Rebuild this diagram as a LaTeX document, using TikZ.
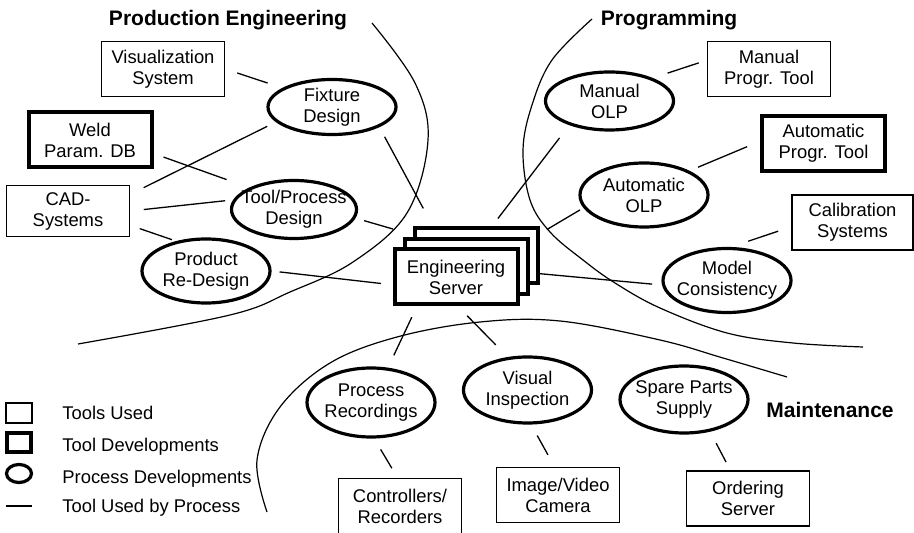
\documentclass[tikz,border=0pt]{standalone}
\usepackage{fontspec}
\setmainfont{Liberation Sans}
\usetikzlibrary{shapes.geometric}
\tikzstyle{every tool} = []
\tikzstyle{tool} = [draw, rectangle, line width=0.75pt, minimum width=61.5pt, minimum height=27.5pt, inner sep=0pt, align=center, every tool]
\tikzstyle{devtool} = [tool, line width=2pt]
\tikzstyle{process} = [draw, ellipse, line width=1.6pt, minimum width=64pt, minimum height=32pt, inner sep=-6pt, align=center]
\tikzstyle{link} = [draw, line width=0.65pt]
\tikzstyle{border} = [draw, line width=0.6pt]
\tikzstyle{area} = [font=\fontsize{10.5}{12}\selectfont\bfseries]
\tikzstyle{keytext} = [anchor=west, inner sep=0pt]

\begin{document}
\begin{tikzpicture}[x=0.5pt, y=-0.5pt, every node/.style={font=\fontsize{9.2}{10.5}\selectfont}]
    \useasboundingbox (0,0) rectangle (914,533);

    % areas
    \draw[border] plot[smooth, tension=0.6] coordinates {(372,23) (415,83) (428,140) (407,213) (353,262) (290,292) (230,315) (78,344)};
    \draw[border] plot[smooth, tension=0.6] coordinates {(592,19) (552,60) (532,105) (523,150) (530,200) (550,232) (583,260) (615,283) (660,308) (727,333) (793,343) (863,347)};
    \draw[border] plot[smooth, tension=0.6] coordinates {(787,377) (723,358) (660,340) (560,321) (480,322) (397,337) (330,363) (280,407) (257,460) (267,512)};

    \node[area] (pe) at (228,20) {Production Engineering};
    \node[area] (pg) at (669,20) {Programming};
    \node[area] (mt) at (830,410) {Maintenance};

    % tools
    \node[tool] (vis) at (163,69) {Visualization\\System};
    \node[devtool] (weld) at (90,140) {Weld\\Param. DB};
    \node[tool, minimum height=25.5pt] (cad) at (68,211) {CAD-\\Systems};
    \node[tool] (mpt) at (769,69) {Manual\\Progr. Tool};
    \node[devtool] (apt) at (823.5,143.5) {Automatic\\Progr. Tool};
    \node[tool, minimum width=60.5pt] (cal) at (852.5,222.5) {Calibration\\Systems};
    \node[tool] (ctl) at (400,506) {Controllers/\\Recorders};
    \node[tool] (cam) at (558,495) {Image/Video\\Camera};
    \node[tool] (ord) at (748,498.5) {Ordering\\Server};

    % processes
    \node[process, minimum height=27.5pt] (fix) at (332,107) {Fixture\\Design};
    \node[process, minimum width=62.5pt, minimum height=29pt] (tpd) at (294,209.5) {Tool/Process\\Design};
    \node[process] (prd) at (206,271) {Product\\Re-Design};
    \node[process, minimum height=29pt] (mol) at (609.5,101) {Manual\\OLP};
    \node[process] (aol) at (644,195) {Automatic\\OLP};
    \node[process] (mdl) at (727,280.5) {Model\\Consistency};
    \node[process, minimum height=34.5pt] (rec) at (371,402.5) {Process\\Recordings};
    \node[process, minimum height=33pt] (vin) at (527.5,390) {Visual\\Inspection};
    \node[process, minimum height=33.5pt] (spp) at (684,399.5) {Spare Parts\\Supply};

    % server stack
    \node[devtool, fill=white] (srvback) at (476.5,255.5) {};
    \node[devtool, fill=white] (srvmid) at (466.5,266.5) {};
    \node[devtool, fill=white] (srv) at (456,277) {Engineering\\Server};

    % used by
    \draw[link, shorten <=6.3pt, shorten >=7.8pt] (vis.east) -- (fix.159);
    \draw[link, shorten <=7.5pt, shorten >=4.8pt] (cad.15) -- (fix.195);
    \draw[link, shorten <=5.3pt, shorten >=12pt] (weld.-12) -- (tpd.154);
    \draw[link, shorten <=6.8pt, shorten >=4pt] (cad.east) -- (tpd.171);
    \draw[link, shorten <=5pt, shorten >=2.2pt] (cad.-13) -- (prd.135);
    \draw[link, shorten <=4pt, shorten >=5.8pt] (prd.east) -- (srv.187);
    \draw[link, shorten <=5.5pt, shorten >=10pt] (fix.-23) -- (srvback.146);
    \draw[link, shorten <=4.5pt, shorten >=10.4pt] (tpd.-8.5) -- (srvback.162);
    \draw[link, shorten <=5.9pt, shorten >=6.8pt] (srv.217) -- (rec.64);
    \draw[link, shorten <=6.3pt, shorten >=5.5pt] (rec.-85) -- (ctl.95);
    \draw[link, shorten <=6.5pt, shorten >=8.5pt] (srv.-86) -- (vin.121);
    \draw[link, shorten <=6.3pt, shorten >=6.8pt] (vin.-84) -- (cam.97);
    \draw[link, shorten <=6.5pt, shorten >=4.6pt] (spp.-51.5) -- (ord.122);
    \draw[link, shorten >=5pt] (srvback.-16) -- (mdl.184);
    \draw[link, shorten <=4.7pt, shorten >=8pt] (srvback.62) -- (mol.211);
    \draw[link, shorten <=4pt, shorten >=2pt] (srvback.19) -- (aol.192);
    \draw[link, shorten <=7.8pt, shorten >=4.2pt] (mol.28) -- (mpt.172);
    \draw[link, shorten <=4.6pt, shorten >=7pt] (aol.28) -- (apt.178);
    \draw[link, shorten <=9pt, shorten >=6.9pt] (mdl.83) -- (cal.184);

    % legend
    \node[tool, minimum width=13pt, minimum height=10pt] (keyused) at (19,413) {};
    \node[devtool, minimum width=12pt, minimum height=9.5pt] (keydev) at (19,442.5) {};
    \node[process, minimum width=12.5pt, minimum height=9pt] (keyproc) at (19,473.5) {};
    \draw[link] (6,506) -- (32,506);
    \node[keytext] (keyusedtxt) at (62,413) {Tools Used};
    \node[keytext] (keydevtxt) at (62,447) {Tool Developments};
    \node[keytext] (keyproctxt) at (62,479) {Process Developments};
    \node[keytext] (keylinktxt) at (62,508) {Tool Used by Process};
\end{tikzpicture}
\end{document}
